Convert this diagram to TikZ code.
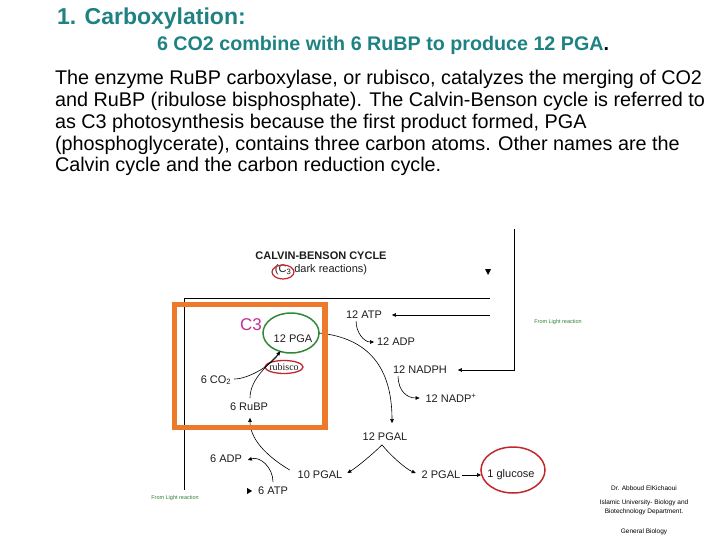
\documentclass[tikz,border=0pt]{standalone}
\usepackage{fontspec}
\setmainfont{Liberation Sans}
\newfontfamily\rubiscofont{Liberation Serif}
\usepackage{tikz}
\usetikzlibrary{arrows.meta, positioning, calc, shapes.geometric}
\definecolor{headteal}{HTML}{1F8282}
\definecolor{frameorange}{HTML}{EC7A2A}
\definecolor{ringgreen}{HTML}{2F8A35}
\definecolor{ringred}{HTML}{C3262C}
\definecolor{cmagenta}{HTML}{C22F92}
\definecolor{lightgreen}{HTML}{2E7D32}
\definecolor{inkgray}{HTML}{1C1C1C}

\begin{document}
\begin{tikzpicture}[
  x=1pt, y=-1pt,
  every node/.style={inner sep=0pt, outer sep=0pt},
  heading/.style={anchor=base west, text=headteal,
                  font=\bfseries\fontsize{23}{27}\selectfont},
  subhead/.style={anchor=base west, text=headteal,
                  font=\bfseries\fontsize{19.7}{22}\selectfont},
  para/.style={anchor=base west, text=black,
               font=\fontsize{19.8}{22}\selectfont},
  mol/.style={text=inkgray, font=\fontsize{11}{13}\selectfont},
  ring/.style={ellipse, draw=#1, line width=1.5pt},
  fromlight/.style={text=lightgreen, font=\fontsize{5.5}{6}\selectfont},
  credit/.style={text=black, font=\fontsize{6.5}{7}\selectfont},
  wire/.style={line width=0.8pt, draw=black},
  arr/.style={-{Triangle[length=4pt,width=3.6pt]}, line width=0.6pt, draw=black}
]
  \useasboundingbox (0,0) rectangle (720,540);

  % slide text
  \node[heading] (title) at (57,25) {1. Carboxylation:};
  \node[subhead] (summary) at (157,51)
    {6 CO2 combine with 6 RuBP to produce 12 PGA{\color{black}.}};
  \node[para] (line1) at (55,85)
    {The enzyme RuBP carboxylase, or rubisco, catalyzes the merging of CO2};
  \node[para] (line2) at (55,106.7)
    {and RuBP (ribulose bisphosphate). The Calvin-Benson cycle is referred to};
  \node[para] (line3) at (55,128.4)
    {as C3 photosynthesis because the first product formed, PGA};
  \node[para] (line4) at (55,150.1)
    {(phosphoglycerate), contains three carbon atoms. Other names are the};
  \node[para] (line5) at (55,171.8)
    {Calvin cycle and the carbon reduction cycle.};

  % cycle heading
  \node[mol, font=\bfseries\fontsize{11}{13}\selectfont] (cycletitle) at (321,256)
    {CALVIN-BENSON CYCLE};
  \node[mol] (cyclesub) at (321,270) {(C\textsubscript{3} dark reactions)};
  \node[ring=ringred, line width=1.2pt, minimum width=22, minimum height=14]
    (c3ring) at (283,272) {};
  \fill (485,269) -- (491,269) -- (488,275) -- cycle;

  % light reaction feeds
  \coordinate (ltopend) at (490,298);
  \coordinate (lcorner) at (184,298);
  \coordinate (lbottom) at (184,490);
  \coordinate (rtop) at (514,229);
  \coordinate (atpfeed) at (490,315);
  \draw[wire] (ltopend) -- (lcorner) -- (lbottom);
  \node[fromlight] (lightright) at (558,322) {From Light reaction};
  \node[fromlight] (lightleft) at (175,498) {From Light reaction};

  % molecules
  \node[mol] (atp12) at (364,315) {12 ATP};
  \node[mol] (adp12) at (396,342) {12 ADP};
  \node[mol] (nadph) at (420,370) {12 NADPH};
  \node[mol] (nadpp) at (451,398) {12 NADP\textsuperscript{+}};
  \node[mol] (pga12) at (293,339) {12 PGA};
  \node[mol] (pgal12) at (385,437) {12 PGAL};
  \node[mol] (pgal10) at (320,475) {10 PGAL};
  \node[mol] (pgal2) at (441,475) {2 PGAL};
  \node[mol] (glucose) at (511,475) {1 glucose};
  \node[mol] (co2) at (216,380) {6 CO\textsubscript{2}};
  \node[mol] (rubp) at (249,407) {6 RuBP};
  \node[mol] (adp6) at (226,459) {6 ADP};
  \node[mol] (atp6) at (273,491) {6 ATP};
  \node[mol, font=\rubiscofont\fontsize{10}{12}\selectfont] (rubisco) at (284,367) {rubisco};

  % rings
  \node[ring=ringgreen, minimum width=56, minimum height=40] (pgaring) at (291,333) {};
  \node[ring=ringred, line width=1.3pt, minimum width=38, minimum height=13]
    (rubring) at (284,367) {};
  \node[ring=ringred, minimum width=64, minimum height=46] (gluring) at (513,470) {};

  % connectors
  \draw[arr, shorten >=10pt] (atpfeed) -- (atp12.east);
  \draw[arr, shorten >=11pt] (rtop) |- (nadph.east);
  \draw[arr] ($(atp12.south west)+(10,2)$) .. controls +(0,12) and +(-10,0)
    .. ($(adp12.west)+(-3,0)$);
  \draw[arr] ($(nadph.south west)+(5,2)$) .. controls +(0,16) and +(-12,0)
    .. ($(nadpp.west)+(-6,0)$);
  \draw[arr] (pgaring.east) .. controls +(50,5) and +(0,-55)
    .. ($(pgal12.north)+(7,-10)$);
  \draw[arr] ($(pgal12.south)+(-3,4)$) .. controls +(-8,8) and +(10,-6)
    .. ($(pgal10.east)+(5,-2)$);
  \draw[arr] ($(pgal12.south)+(-3,4)$) .. controls +(8,10) and +(-10,-4)
    .. ($(pgal2.west)+(-6,-2)$);
  \draw[arr, shorten <=2pt] (pgal2.east) -- (pgal2.east -| gluring.west);
  \draw[arr] ($(pgal10.west)+(-8,-5)$) .. controls +(-25,-15) and +(0,20)
    .. ($(rubp.south)+(1,7)$);
  \draw[arr] ($(atp6.north)+(0,-5)$) .. controls +(0,-15) and +(12,-4)
    .. ($(adp6.east)+(6,1)$);
  \draw[arr] ($(rubp.north)+(1,-5)$) .. controls +(0,-20) and +(-10,12)
    .. (pgaring.240);
  \draw[line width=0.6pt] ($(co2.east)+(3,-1)$) .. controls +(14,0) and +(-8,14)
    .. (pgaring.240);
  \fill ($(atp6.west)+(-11,-3)$) -- ($(atp6.west)+(-6,0)$)
    -- ($(atp6.west)+(-11,3)$) -- cycle;

  % C3 frame
  \node[mol, text=cmagenta, font=\fontsize{17}{19}\selectfont] (c3) at (251,325) {C3};
  \node[draw=frameorange, line width=5.5pt, minimum width=150.5, minimum height=123]
    (c3box) at (249.75,366) {};

  % credits
  \node[credit] (author) at (644,488) {Dr. Abboud ElKichaoui};
  \node[credit] (uni1) at (644,503) {Islamic University- Biology and};
  \node[credit] (uni2) at (644,512) {Biotechnology Department.};
  \node[credit] (course) at (644,532) {General Biology};
\end{tikzpicture}
\end{document}
